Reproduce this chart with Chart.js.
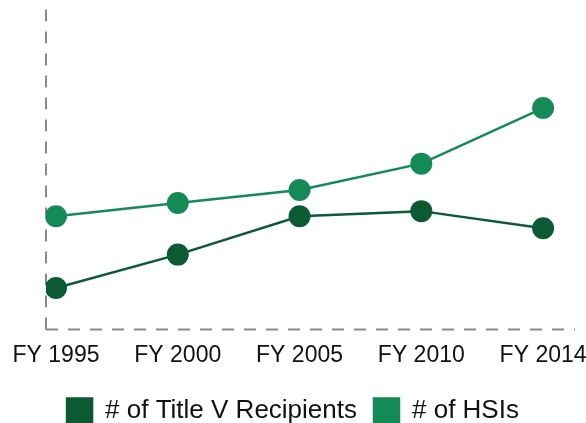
<!DOCTYPE html>
<html>
<head>
<meta charset="utf-8">
<script src="https://cdn.jsdelivr.net/npm/chart.js@4/dist/chart.umd.min.js"></script>
<style>
  html, body { margin: 0; padding: 0; background: #fff; }
  #wrap { width: 586px; height: 423px; position: relative; }
</style>
</head>
<body>
<div id="wrap"><canvas id="chart"></canvas></div>
<script>
const years = ['FY 1995', 'FY 2000', 'FY 2005', 'FY 2010', 'FY 2014'];
const titleV = [41, 74, 112, 117, 100];
const hsis = [112, 125, 138, 164, 219];

const darkGreen = '#0b5a33';
const lightGreen = '#148a56';
const axisGrey = '#8a8a8a';
const fontFamily = "'Liberation Sans', Arial, sans-serif";

const toPoints = vals => vals.map((v, i) => ({ x: i, y: v }));

// dashed axis lines, both starting from the origin corner
const dashedAxes = {
    id: 'dashedAxes',
    beforeDatasetsDraw(chart) {
        const { ctx, chartArea: a } = chart;
        ctx.save();
        ctx.strokeStyle = axisGrey;
        ctx.lineWidth = 2;
        ctx.setLineDash([12, 10]);
        ctx.beginPath();
        ctx.moveTo(a.left, a.bottom);
        ctx.lineTo(a.left, a.top - 4);
        ctx.stroke();
        ctx.beginPath();
        ctx.moveTo(a.left, a.bottom);
        ctx.lineTo(a.right, a.bottom);
        ctx.stroke();
        ctx.restore();
    }
};

new Chart(document.getElementById('chart'), {
    type: 'line',
    data: {
        datasets: [
            {
                label: '# of Title V Recipients',
                data: toPoints(titleV),
                borderColor: darkGreen,
                backgroundColor: darkGreen,
                borderWidth: 2.5,
                pointRadius: 11,
                pointHoverRadius: 11,
                pointBorderWidth: 0,
                tension: 0
            },
            {
                label: '# of HSIs',
                data: toPoints(hsis),
                borderColor: lightGreen,
                backgroundColor: lightGreen,
                borderWidth: 2.5,
                pointRadius: 11,
                pointHoverRadius: 11,
                pointBorderWidth: 0,
                tension: 0
            }
        ]
    },
    options: {
        responsive: true,
        maintainAspectRatio: false,
        animation: false,
        layout: { padding: { left: 0, right: 0, top: 5, bottom: -11 } },
        plugins: {
            tooltip: { enabled: false },
            legend: {
                position: 'bottom',
                labels: {
                    boxWidth: 25,
                    boxHeight: 25,
                    padding: 17,
                    color: '#111',
                    font: { family: fontFamily, size: 26 }
                }
            }
        },
        scales: {
            x: {
                type: 'linear',
                min: -0.082,
                max: 4.262,
                afterBuildTicks: axis => { axis.ticks = years.map((_, i) => ({ value: i })); },
                afterFit: axis => { axis.paddingLeft = 0; axis.paddingRight = 0; axis.height += 8; },
                grid: { display: false },
                border: { display: false },
                ticks: {
                    color: '#111',
                    padding: 4,
                    maxRotation: 0,
                    autoSkip: false,
                    font: { family: fontFamily, size: 23 },
                    callback: v => years[v]
                }
            },
            y: {
                min: 0,
                max: 315,
                afterFit: axis => { axis.width = 46; },
                grid: { display: false },
                border: { display: false },
                ticks: { display: false }
            },
            yRight: {
                position: 'right',
                afterFit: axis => { axis.width = 10; },
                grid: { display: false },
                border: { display: false },
                ticks: { display: false }
            }
        }
    },
    plugins: [dashedAxes]
});
</script>
</body>
</html>
